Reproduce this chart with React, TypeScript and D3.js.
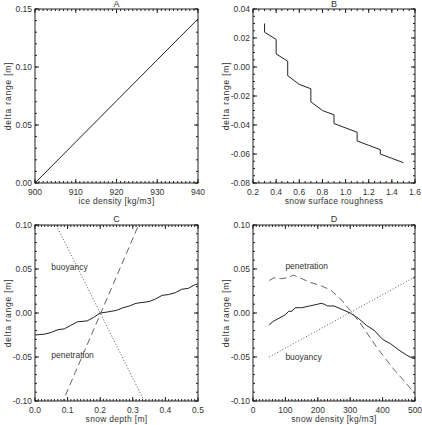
import React from "react";
import * as d3 from "d3";

// A: ice density
const iceDensity = [900, 910, 920, 930, 940];
const deltaIce = [0.0, 0.0354, 0.0708, 0.1062, 0.1415];

// B: snow surface roughness (stepped)
const roughness = [0.3, 0.3, 0.4, 0.4, 0.5, 0.5, 0.6, 0.7, 0.7, 0.8, 0.9, 0.9, 1.0, 1.1, 1.1, 1.2, 1.3, 1.3, 1.4, 1.5];
const deltaRough = [0.030, 0.024, 0.019, 0.009, 0.004, -0.006, -0.012, -0.015, -0.024, -0.030, -0.033, -0.039, -0.042, -0.045, -0.051, -0.054, -0.057, -0.060, -0.063, -0.066];

// C: snow depth
const snowDepth = [0, 0.03, 0.05, 0.07, 0.09, 0.11, 0.13, 0.16, 0.18, 0.2, 0.22, 0.25, 0.27, 0.29, 0.31, 0.35, 0.37, 0.39, 0.41, 0.43, 0.45, 0.47, 0.49, 0.5];
const deltaDepth = [-0.025, -0.024, -0.022, -0.019, -0.018, -0.014, -0.010, -0.009, -0.005, 0.0, 0.001, 0.003, 0.006, 0.008, 0.011, 0.013, 0.016, 0.020, 0.021, 0.023, 0.027, 0.028, 0.032, 0.033];
const depthEnds = [0, 0.5];
const buoyancyDepth = [0.148, -0.222];
const penetrationDepth = [-0.174, 0.257];

// D: snow density
const snowDensity = [50, 60, 75, 90, 100, 110, 120, 130, 150, 175, 200, 210, 220, 230, 250, 275, 300, 325, 350, 375, 400, 425, 450, 475, 490, 500];
const deltaDensity = [-0.014, -0.010, -0.007, -0.004, -0.002, 0.002, 0.002, 0.006, 0.006, 0.008, 0.010, 0.011, 0.010, 0.008, 0.008, 0.004, 0.0, -0.006, -0.014, -0.020, -0.030, -0.035, -0.042, -0.048, -0.051, -0.052];
const penDensityX = [50, 65, 85, 105, 125, 145, 175, 210, 240, 270, 300, 330, 380, 430, 480, 500];
const penetrationDensity = [0.037, 0.040, 0.039, 0.040, 0.043, 0.040, 0.035, 0.031, 0.026, 0.016, 0.003, -0.011, -0.038, -0.062, -0.083, -0.092];
const buoyDensityX = [50, 500];
const buoyancyDensity = [-0.050, 0.041];

const FONT = "'Liberation Sans', Arial, sans-serif";
const INK = "#222";
const TXT = "#333";

type Series = { x: number[]; y: number[]; style: "solid" | "dashed" | "dotted" };
type Note = { x: number; y: number; text: string };
type PanelCfg = {
  id: string;
  title: string;
  box: [number, number, number, number]; // left, right, top, bottom
  xDomain: [number, number];
  yDomain: [number, number];
  xMajor: number;
  xMinor: number;
  yMajor: number;
  yMinor: number;
  xFmt: string;
  yFmt: string;
  xTitle: string;
  series: Series[];
  notes: Note[];
};

const panels: PanelCfg[] = [
  {
    id: "A", title: "A", box: [35, 198, 9, 183],
    xDomain: [900, 940], yDomain: [0, 0.15],
    xMajor: 10, xMinor: 1, yMajor: 0.05, yMinor: 0.01,
    xFmt: "d", yFmt: ".2f", xTitle: "ice density [kg/m3]",
    series: [{ x: iceDensity, y: deltaIce, style: "solid" }],
    notes: [],
  },
  {
    id: "B", title: "B", box: [253, 415, 9, 183],
    xDomain: [0.2, 1.6], yDomain: [-0.08, 0.04],
    xMajor: 0.2, xMinor: 0.05, yMajor: 0.02, yMinor: 0.005,
    xFmt: ".1f", yFmt: ".2f", xTitle: "snow surface roughness",
    series: [{ x: roughness, y: deltaRough, style: "solid" }],
    notes: [],
  },
  {
    id: "C", title: "C", box: [35, 198, 225, 401],
    xDomain: [0, 0.5], yDomain: [-0.1, 0.1],
    xMajor: 0.1, xMinor: 0.01, yMajor: 0.05, yMinor: 0.01,
    xFmt: ".1f", yFmt: ".2f", xTitle: "snow depth [m]",
    series: [
      { x: snowDepth, y: deltaDepth, style: "solid" },
      { x: depthEnds, y: buoyancyDepth, style: "dotted" },
      { x: depthEnds, y: penetrationDepth, style: "dashed" },
    ],
    notes: [
      { x: 0.05, y: 0.052, text: "buoyancy" },
      { x: 0.05, y: -0.048, text: "penetration" },
    ],
  },
  {
    id: "D", title: "D", box: [253, 415, 225, 401],
    xDomain: [0, 500], yDomain: [-0.1, 0.1],
    xMajor: 100, xMinor: 10, yMajor: 0.05, yMinor: 0.01,
    xFmt: "d", yFmt: ".2f", xTitle: "snow density [kg/m3]",
    series: [
      { x: snowDensity, y: deltaDensity, style: "solid" },
      { x: penDensityX, y: penetrationDensity, style: "dashed" },
      { x: buoyDensityX, y: buoyancyDensity, style: "dotted" },
    ],
    notes: [
      { x: 100, y: 0.053, text: "penetration" },
      { x: 100, y: -0.05, text: "buoyancy" },
    ],
  },
];

function steps(lo: number, hi: number, step: number) {
  const out: number[] = [];
  const n = Math.round((hi - lo) / step);
  for (let i = 0; i <= n; i++) out.push(lo + i * step);
  return out;
}

function Panel({ p }: { p: PanelCfg }) {
  const [l, r, t, b] = p.box;
  const x = d3.scaleLinear().domain(p.xDomain).range([l, r]);
  const y = d3.scaleLinear().domain(p.yDomain).range([b, t]);
  const fx = d3.format(p.xFmt);
  const fy = d3.format(p.yFmt);
  const clean = (s: string) => s.replace("\u2212", "-");
  const xMaj = steps(p.xDomain[0], p.xDomain[1], p.xMajor);
  const yMaj = steps(p.yDomain[0], p.yDomain[1], p.yMajor);
  const xMin = steps(p.xDomain[0], p.xDomain[1], p.xMinor);
  const yMin = steps(p.yDomain[0], p.yDomain[1], p.yMinor);
  const maj = 4;
  const mn = 2;
  const line = d3.line<[number, number]>().x((d) => x(d[0])).y((d) => y(d[1]));
  const clipId = "clip" + p.id;

  return (
    <g>
      <defs>
        <clipPath id={clipId}>
          <rect x={l} y={t} width={r - l} height={b - t} />
        </clipPath>
      </defs>
      <g clipPath={`url(#${clipId})`}>
        {p.series.map((s, i) => (
          <path
            key={i}
            d={line(s.x.map((v, k) => [v, s.y[k]] as [number, number])) || ""}
            fill="none"
            stroke={s.style === "solid" ? INK : s.style === "dashed" ? "#666" : "#555"}
            strokeWidth={1}
            strokeDasharray={s.style === "dashed" ? "7,4" : s.style === "dotted" ? "1,2" : undefined}
          />
        ))}
      </g>
      {/* minor ticks */}
      {xMin.map((v, i) => (
        <g key={"xm" + i}>
          <line x1={x(v)} x2={x(v)} y1={b} y2={b - mn} stroke={INK} strokeWidth={1} />
          <line x1={x(v)} x2={x(v)} y1={t} y2={t + mn} stroke={INK} strokeWidth={1} />
        </g>
      ))}
      {yMin.map((v, i) => (
        <g key={"ym" + i}>
          <line x1={l} x2={l + mn} y1={y(v)} y2={y(v)} stroke={INK} strokeWidth={1} />
          <line x1={r} x2={r - mn} y1={y(v)} y2={y(v)} stroke={INK} strokeWidth={1} />
        </g>
      ))}
      {/* major ticks + labels */}
      {xMaj.map((v, i) => (
        <g key={"xM" + i}>
          <line x1={x(v)} x2={x(v)} y1={b} y2={b - maj} stroke={INK} strokeWidth={1} />
          <line x1={x(v)} x2={x(v)} y1={t} y2={t + maj} stroke={INK} strokeWidth={1} />
          <text x={x(v)} y={b + 12} textAnchor="middle" fontSize={8.5} fontFamily={FONT} fill={TXT}>
            {clean(fx(v))}
          </text>
        </g>
      ))}
      {yMaj.map((v, i) => (
        <g key={"yM" + i}>
          <line x1={l} x2={l + maj} y1={y(v)} y2={y(v)} stroke={INK} strokeWidth={1} />
          <line x1={r} x2={r - maj} y1={y(v)} y2={y(v)} stroke={INK} strokeWidth={1} />
          <text x={l - 3} y={y(v) + 3} textAnchor="end" fontSize={8.5} fontFamily={FONT} fill={TXT}>
            {clean(fy(Math.abs(v) < 1e-9 ? 0 : v))}
          </text>
        </g>
      ))}
      <rect x={l} y={t} width={r - l} height={b - t} fill="none" stroke={INK} strokeWidth={1} />
      <text x={(l + r) / 2} y={Math.max(t - 3, 7)} textAnchor="middle" fontSize={9} fontFamily={FONT} fill={TXT}>
        {p.title}
      </text>
      <text x={(l + r) / 2} y={b + 21} textAnchor="middle" fontSize={8.5} fontFamily={FONT} fill={TXT} letterSpacing={0.3}>
        {p.xTitle}
      </text>
      <text
        transform={`translate(${l - 24},${(t + b) / 2}) rotate(-90)`}
        textAnchor="middle"
        fontSize={8.5}
        fontFamily={FONT}
        fill={TXT}
        letterSpacing={0.8}
      >
        delta range [m]
      </text>
      {p.notes.map((n, i) => (
        <text key={i} x={x(n.x)} y={y(n.y) + 3} fontSize={8.5} fontFamily={FONT} fill={TXT}>
          {n.text}
        </text>
      ))}
    </g>
  );
}

export default function App() {
  return (
    <svg
      width={422}
      height={425}
      style={{ position: "absolute", left: 0, top: 0, background: "#fff" }}
    >
      <rect width={422} height={425} fill="#fff" />
      {panels.map((p) => (
        <Panel key={p.id} p={p} />
      ))}
    </svg>
  );
}
